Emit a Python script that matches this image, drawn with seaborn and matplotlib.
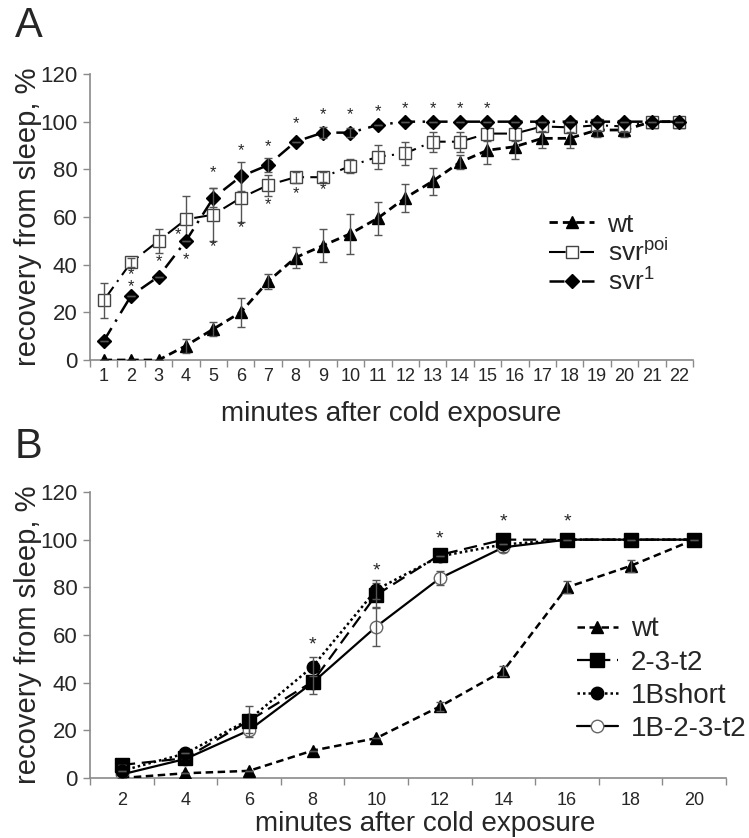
import numpy as np
import pandas as pd
import matplotlib
matplotlib.use("Agg")
import matplotlib.pyplot as plt
from matplotlib.ticker import FixedLocator
import seaborn as sns

# ── Panel A data ────────────────────────────────────────────────────────────────
minutes_a = list(range(1, 23))
wt_a      = [0, 0, 0, 6, 13, 20, 33, 43, 48, 53, 59.5, 68, 75, 83, 88, 89.5, 93, 93, 96.5, 96.5, 100, 100]
wt_a_err  = [0, 0, 0, 3, 3, 6, 3, 4.3, 6.8, 8.4, 7, 5.8, 5.6, 3, 5.6, 5, 4, 4, 3, 3, 0, 0]
poi_a     = [25, 41, 50, 59, 61, 68, 73.4, 76.7, 76.7, 81.4, 85.3, 86.7, 91.6, 91.6, 95, 95, 98, 97.6, 98.5, 98, 100, 100]
poi_a_err = [7.5, 2, 5, 10, 11, 10, 4.4, 2.3, 2, 2.8, 5, 4.7, 4.2, 4.2, 3, 3, 2, 2, 2, 2, 0, 0]
svr1_a    = [8, 27, 35, 50, 68, 77, 81.8, 91.6, 95.4, 95.4, 98.6, 100, 100, 100, 100, 100, 100, 100, 100, 100, 100, 100]
svr1_a_err = [0, 0, 0, 0, 4, 6, 3, 0, 2.2, 2, 0, 0, 0, 0, 0, 0, 0, 0, 0, 0, 0, 0]

star_a_x = [2, 2, 3, 3.7, 4, 5, 5, 6, 6, 7, 7, 8, 8, 9, 9, 10, 11, 12, 13, 14, 15]
star_a_y = [35.8, 30.8, 41.3, 52.4, 42, 78.6, 47.5, 87.8, 55.5, 89.5, 65, 99.3, 69.7,
            102.8, 71.3, 102.8, 104.2, 105.3, 105.3, 105.3, 105.3]

# ── Panel B data ────────────────────────────────────────────────────────────────
minutes_b   = [2, 4, 6, 8, 10, 12, 14, 16, 18, 20]
wt_b        = [0, 2, 3, 11.5, 16.7, 30, 45, 80, 89, 100]
wt_b_err    = [0, 0, 0, 0, 0, 2, 2, 2.5, 2.5, 0]
t2_b        = [5.5, 8.3, 24, 40.4, 76.8, 93.6, 100, 100, 100, 100]
t2_b_err    = [0, 0, 0, 5, 5, 0, 0, 0, 0, 0]
short_b     = [3, 10.3, 24.5, 46.7, 79, 93, 98, 100, 100, 100]
short_b_err = [0, 0, 5.5, 4, 4, 0, 0, 0, 0, 0]
b23_b       = [1.5, 8, 20, 40, 63.5, 83.8, 96.8, 100, 100, 100]
b23_b_err   = [0, 0, 3, 0, 8, 3, 2, 0, 0, 0]

star_b_x = [8, 10, 12, 14, 16]
star_b_y = [55.8, 87, 100.2, 107.6, 107.6]

# ── Style ───────────────────────────────────────────────────────────────────────
sns.set_theme(style="white")
plt.rcParams["font.family"] = ["Liberation Sans", "DejaVu Sans"]
plt.rcParams["mathtext.fontset"] = "custom"
plt.rcParams["mathtext.rm"] = "Liberation Sans"

AXCOL = "#8a8a8a"
ERRCOL = "#555555"

fig = plt.figure(figsize=(7.49, 8.38), dpi=100)
ax_a = fig.add_axes([0.1202, 0.5704, 0.805, 0.3413])
ax_b = fig.add_axes([0.1202, 0.0716, 0.8491, 0.3413])


def draw_series(ax, x, y, err, label, ls, lw, marker, ms, mfc, mec, mew, z):
    ax.errorbar(x, y, yerr=err, fmt="none", ecolor=ERRCOL, elinewidth=1,
                capsize=3, capthick=1, zorder=z + 1)
    sns.lineplot(x=x, y=y, ax=ax, color="black", linestyle=ls, linewidth=lw,
                 marker=marker, markersize=ms, markerfacecolor=mfc,
                 markeredgecolor=mec, markeredgewidth=mew, label=label,
                 zorder=z)


def style_axes(ax, xmin, xmax, major, bounds, ytick_fs, xtick_fs, xpad):
    for s in ["top", "right"]:
        ax.spines[s].set_visible(False)
    for s in ["left", "bottom"]:
        ax.spines[s].set_color(AXCOL)
        ax.spines[s].set_linewidth(1.2)
    ax.set_ylim(0, 120)
    ax.set_yticks(range(0, 121, 20))
    ax.set_xlim(xmin, xmax)
    ax.xaxis.set_major_locator(FixedLocator(major))
    ax.set_xticklabels([str(m) for m in major])
    ax.xaxis.set_minor_locator(FixedLocator(bounds))
    ax.tick_params(axis="y", which="major", direction="out", length=5, width=1,
                   color=AXCOL, labelsize=ytick_fs, pad=4, left=True)
    ax.tick_params(axis="x", which="major", length=0, labelsize=xtick_fs, pad=xpad, bottom=True)
    ax.tick_params(axis="x", which="minor", direction="out", length=5, width=1,
                   color=AXCOL, bottom=True)
    ax.grid(False)
    ax.set_ylabel("recovery from sleep, %", fontsize=21, labelpad=-1)


# ── Panel A ─────────────────────────────────────────────────────────────────────
draw_series(ax_a, minutes_a, wt_a, wt_a_err, "wt", (0, (3, 1.8)), 2.0,
            "^", 9, "black", "black", 1, 3)
draw_series(ax_a, minutes_a, poi_a, poi_a_err, r"svr$^{\mathrm{poi}}$", (0, (8, 3, 1, 3)), 1.5,
            "s", 9, "white", "#444444", 1, 4)
draw_series(ax_a, minutes_a, svr1_a, svr1_a_err, r"svr$^{\mathrm{1}}$", (0, (6, 3, 1, 3)), 1.8,
            "D", 7, "black", "black", 1, 5)
for sx, sy in zip(star_a_x, star_a_y):
    ax_a.text(sx, sy, "*", ha="center", va="center", fontsize=12, zorder=10)

style_axes(ax_a, 0.5, 22.5, minutes_a, np.arange(0.5, 23, 1), 16, 13, 6)
ax_a.set_xlabel("minutes after cold exposure", fontsize=20, labelpad=11)
ax_a.legend(loc="upper left", bbox_to_anchor=(0.762, 0.515), frameon=False,
            fontsize=19, handlelength=1.7, handletextpad=0.5, labelspacing=0.05,
            borderpad=0, borderaxespad=0, numpoints=1)

# ── Panel B ─────────────────────────────────────────────────────────────────────
draw_series(ax_b, minutes_b, wt_b, wt_b_err, "wt", (0, (3, 1.8)), 1.8,
            "^", 9, "black", "black", 1, 3)
draw_series(ax_b, minutes_b, t2_b, t2_b_err, "2-3-t2", (0, (6, 3)), 1.6,
            "s", 9.5, "black", "black", 1, 4)
draw_series(ax_b, minutes_b, short_b, short_b_err, "1Bshort", (0, (1, 1.2)), 1.8,
            "o", 9, "black", "black", 1, 5)
draw_series(ax_b, minutes_b, b23_b, b23_b_err, "1B-2-3-t2", "-", 1.6,
            "o", 9, "white", "#666666", 1, 2)
for sx, sy in zip(star_b_x, star_b_y):
    ax_b.text(sx, sy, "*", ha="center", va="center", fontsize=14, zorder=10)

style_axes(ax_b, 1, 21, minutes_b, np.arange(1, 22, 2), 16, 13, 10)
ax_b.set_xlabel("minutes after cold exposure", fontsize=20, labelpad=1)
ax_b.xaxis.set_label_coords(0.527, -0.115)
ax_b.legend(loc="upper left", bbox_to_anchor=(0.765, 0.565), frameon=False,
            fontsize=20, handlelength=1.5, handletextpad=0.45, labelspacing=0.26,
            borderpad=0, borderaxespad=0, numpoints=1)

# ── Panel letters ───────────────────────────────────────────────────────────────
fig.text(0.02, 0.993, "A", fontsize=30, va="top", ha="left")
fig.text(0.02, 0.49, "B", fontsize=30, va="top", ha="left")

plt.savefig("out.png", dpi=100)
print("Saved: out.png")
